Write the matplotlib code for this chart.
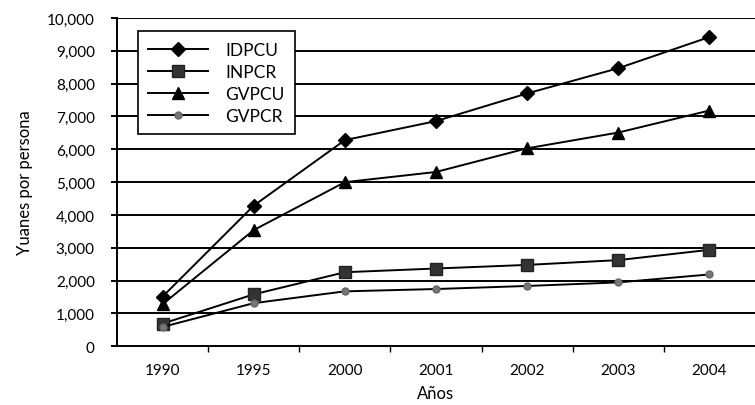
import matplotlib
matplotlib.use("Agg")
import matplotlib.pyplot as plt
from matplotlib.ticker import FuncFormatter, FixedLocator

# 数据（元/人）
years = ["1990", "1995", "2000", "2001", "2002", "2003", "2004"]
idpcu = [1510, 4283, 6280, 6860, 7703, 8472, 9422]
inpcr = [686, 1578, 2253, 2366, 2476, 2622, 2936]
gvpcu = [1279, 3538, 4998, 5309, 6030, 6511, 7182]
gvpcr = [585, 1310, 1670, 1741, 1834, 1943, 2185]
y_ticks = list(range(0, 10001, 1000))

plt.rcParams['font.family'] = ['Lato', 'DejaVu Sans']

fig = plt.figure(figsize=(7.55, 4.06), dpi=100)
ax = fig.add_axes([0.155, 0.145, 0.845, 0.808])

x = list(range(len(years)))

# 网格线
for v in y_ticks[1:]:
    ax.axhline(v, color='black', linewidth=1.4, zorder=1)

ax.plot(x, idpcu, color='black', linewidth=1.4, marker='D', markersize=7,
        markerfacecolor='black', markeredgecolor='black', label='IDPCU', zorder=3)
ax.plot(x, inpcr, color='black', linewidth=1.4, marker='s', markersize=8,
        markerfacecolor='#333333', markeredgecolor='#222222', label='INPCR', zorder=3)
ax.plot(x, gvpcu, color='black', linewidth=1.4, marker='^', markersize=8,
        markerfacecolor='black', markeredgecolor='black', label='GVPCU', zorder=3)
ax.plot(x, gvpcr, color='black', linewidth=1.4, marker='o', markersize=5,
        markerfacecolor='#777777', markeredgecolor='#666666', label='GVPCR', zorder=3)

ax.set_xlim(-0.5, len(years) - 0.5)
ax.set_ylim(0, 10000)

ax.set_yticks(y_ticks)
ax.yaxis.set_major_formatter(FuncFormatter(lambda v, p: f"{int(v):,}"))
ax.set_xticks(x)
ax.set_xticklabels(years)
ax.xaxis.set_minor_locator(FixedLocator([i + 0.5 for i in x[:-1]]))
ax.tick_params(axis='x', which='major', length=0, pad=12, labelsize=11)
ax.tick_params(axis='x', which='minor', length=4, width=1, direction='out')
ax.tick_params(axis='y', length=4, width=1.4, labelsize=11, pad=12)

for s in ['top', 'right']:
    ax.spines[s].set_visible(False)
ax.spines['left'].set_linewidth(1.4)
ax.spines['bottom'].set_linewidth(1.4)

ax.set_ylabel('Yuanes por persona', fontsize=12, labelpad=10)
ax.set_xlabel('Años', fontsize=12, labelpad=6)

leg = ax.legend(loc='upper left', bbox_to_anchor=(0.033, 0.96), borderaxespad=0,
                frameon=True, fancybox=False, edgecolor='black', fontsize=12.5,
                handlelength=3.4, handletextpad=1.0, borderpad=0.6,
                labelspacing=0.35, framealpha=1)
leg.get_frame().set_linewidth(1.2)
leg.set_zorder(5)

fig.savefig('out.png', dpi=100)
